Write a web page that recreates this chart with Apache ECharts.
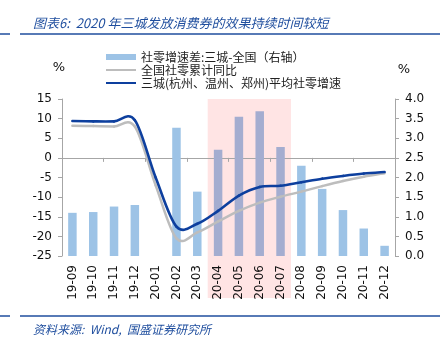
<!DOCTYPE html>
<html><head><meta charset="utf-8">
<script src="https://cdn.jsdelivr.net/npm/echarts@6/dist/echarts.min.js"></script>
<style>html,body{margin:0;padding:0;background:#fff}#c{width:446px;height:344px}</style>
</head><body><div id="c"></div>
<script>
const categories = ['19-09','19-10','19-11','19-12','20-01','20-02','20-03','20-04','20-05','20-06','20-07','20-08','20-09','20-10','20-11','20-12'];
const diffValues = [1.10, 1.12, 1.26, 1.30, null, 3.27, 1.64, 2.71, 3.55, 3.69, 2.78, 2.30, 1.71, 1.17, 0.70, 0.26];
const nationalValues = [8.2, 8.1, 8.0, 8.0, -7.0, -20.5, -19.0, -16.2, -13.5, -11.4, -9.9, -8.6, -7.2, -5.9, -4.8, -3.9];
const threeCityValues = [9.4, 9.3, 9.3, 9.6, -5.0, -17.5, -16.8, -13.5, -9.6, -7.4, -7.1, -6.2, -5.3, -4.6, -4.0, -3.6];
const leftTicks = {min: -25, max: 15, interval: 5};
const rightTicks = {min: 0, max: 4, interval: 0.5};
const shadeStart = '20-04', shadeEnd = '20-07';
const names = ['社零增速差:三城-全国（右轴）', '全国社零累计同比', '三城(杭州、温州、郑州)平均社零增速'];

const chart = echarts.init(document.getElementById('c'));
const font = 'DejaVu Sans, Verdana, sans-serif';
const cjk = '"Noto Sans CJK SC", sans-serif';
const i0 = categories.indexOf(shadeStart), i1 = categories.indexOf(shadeEnd);
const axisGray = '#A6A6A6';
const blue = '#0D3F9E', gray = '#BDBDBD', barBlue = '#9DC3E6';
const lineIcon = 'path://M0,0 L30,0 L30,2 L0,2 Z';

// Excel-style smoothed line drawn segment by segment through the axis scales
function smoothLine(values, color, width) {
  return function (params, api) {
    const i = params.dataIndex;
    if (values[i] == null) return null;
    const idx = [];
    values.forEach((v, k) => { if (v != null) idx.push(k); });
    const p = idx.indexOf(i);
    if (p >= idx.length - 1) return null;
    const pt = k => api.coord([k, values[k]]);
    const P0 = pt(idx[Math.max(p - 1, 0)]), P1 = pt(idx[p]), P2 = pt(idx[p + 1]), P3 = pt(idx[Math.min(p + 2, idx.length - 1)]);
    const t = 1 / 6;
    return {
      type: 'bezierCurve',
      shape: {x1: P1[0], y1: P1[1], x2: P2[0], y2: P2[1],
        cpx1: P1[0] + (P2[0] - P0[0]) * t, cpy1: P1[1] + (P2[1] - P0[1]) * t,
        cpx2: P2[0] - (P3[0] - P1[0]) * t, cpy2: P2[1] - (P3[1] - P1[1]) * t},
      style: {stroke: color, lineWidth: width, fill: null, lineCap: 'round'}
    };
  };
}

chart.setOption({
  animation: false,
  grid: {left: 62, right: 51, top: 99, bottom: 88},
  title: [
    {text: '图表6:  2020 年三城发放消费券的效果持续时间较短', left: 28, top: 12,
     textStyle: {fontSize: 13, fontStyle: 'italic', fontWeight: 'normal', color: '#1F4E9E', fontFamily: cjk}},
    {text: '资料来源:  Wind,  国盛证券研究所', left: 28, top: 318,
     textStyle: {fontSize: 12, fontStyle: 'italic', fontWeight: 'normal', color: '#1F4E9E', fontFamily: cjk}}
  ],
  legend: {
    orient: 'vertical', left: 106, top: 51, padding: 0, itemGap: 1, itemWidth: 30, itemHeight: 6,
    symbolKeepAspect: true,
    textStyle: {fontSize: 12, color: '#222', fontFamily: cjk},
    data: [
      {name: names[0], icon: 'rect', itemStyle: {color: barBlue}},
      {name: names[1], icon: lineIcon, itemStyle: {color: gray}},
      {name: names[2], icon: lineIcon, itemStyle: {color: blue}}
    ]
  },
  xAxis: [
    {type: 'category', data: categories, gridIndex: 0, position: 'bottom',
     axisLine: {show: false, onZero: false}, axisTick: {show: false},
     axisLabel: {rotate: 90, interval: 0, fontSize: 12, color: '#111', fontFamily: font, margin: 9}},
    {type: 'category', data: categories, gridIndex: 0, position: 'bottom',
     axisLine: {show: true, onZero: true, onZeroAxisIndex: 0, lineStyle: {color: axisGray, width: 1}},
     axisTick: {show: true, length: 4, lineStyle: {color: axisGray}}, axisLabel: {show: false}}
  ],
  yAxis: [
    {type: 'value', min: leftTicks.min, max: leftTicks.max, interval: leftTicks.interval,
     name: '%', nameLocation: 'end', nameGap: 25, nameTextStyle: {fontSize: 13, color: '#111', fontFamily: font, align: 'center', padding: [0, 6, 0, 0]},
     axisLine: {show: true, lineStyle: {color: axisGray}}, axisTick: {show: true, length: 4, lineStyle: {color: axisGray}},
     splitLine: {show: false}, axisLabel: {fontSize: 12, color: '#111', fontFamily: font, margin: 10}},
    {type: 'value', min: rightTicks.min, max: rightTicks.max, interval: rightTicks.interval, position: 'right',
     name: '%', nameLocation: 'end', nameGap: 23, nameTextStyle: {fontSize: 13, color: '#111', fontFamily: font, align: 'center', padding: [0, 0, 0, 18]},
     axisLine: {show: true, lineStyle: {color: axisGray}}, axisTick: {show: true, length: 4, lineStyle: {color: axisGray}},
     splitLine: {show: false}, axisLabel: {fontSize: 12, color: '#111', fontFamily: font, margin: 10, formatter: v => v.toFixed(1)}}
  ],
  series: [
    {name: names[0], type: 'bar', xAxisIndex: 0, yAxisIndex: 1, data: diffValues, barWidth: 8.5, z: 2,
     itemStyle: {color: p => (p.dataIndex >= i0 && p.dataIndex <= i1) ? '#A4ADD0' : barBlue}},
    {name: names[1], type: 'custom', xAxisIndex: 0, yAxisIndex: 0, z: 3, clip: false,
     data: nationalValues.map((v, k) => [k, v == null ? '-' : v]), encode: {x: 0, y: 1},
     itemStyle: {color: gray}, renderItem: smoothLine(nationalValues, gray, 2.5)},
    {name: names[2], type: 'custom', xAxisIndex: 0, yAxisIndex: 0, z: 4, clip: false,
     data: threeCityValues.map((v, k) => [k, v == null ? '-' : v]), encode: {x: 0, y: 1},
     itemStyle: {color: blue}, renderItem: smoothLine(threeCityValues, blue, 2.6)}
  ]
});

function decorate() {
  const step = chart.convertToPixel({xAxisIndex: 0}, categories[1]) - chart.convertToPixel({xAxisIndex: 0}, categories[0]);
  const xa = chart.convertToPixel({xAxisIndex: 0}, shadeStart) - step / 2;
  const xb = chart.convertToPixel({xAxisIndex: 0}, shadeEnd) + step / 2;
  const yTop = chart.convertToPixel({yAxisIndex: 0}, leftTicks.max);
  chart.setOption({graphic: [
    {type: 'rect', z: -1, silent: true, shape: {x: xa, y: yTop, width: xb - xa, height: 298 - yTop}, style: {fill: '#FFE4E4'}},
    {type: 'line', shape: {x1: 0, y1: 34, x2: 10, y2: 34}, style: {stroke: '#1F4E9E', lineWidth: 1.5}},
    {type: 'line', shape: {x1: 20, y1: 34, x2: 440, y2: 34}, style: {stroke: '#1F4E9E', lineWidth: 1.5}},
    {type: 'line', shape: {x1: 0, y1: 316, x2: 10, y2: 316}, style: {stroke: '#1F4E9E', lineWidth: 1.5}},
    {type: 'line', shape: {x1: 20, y1: 316, x2: 440, y2: 316}, style: {stroke: '#1F4E9E', lineWidth: 1.5}}
  ]});
}
decorate();
</script></body></html>
